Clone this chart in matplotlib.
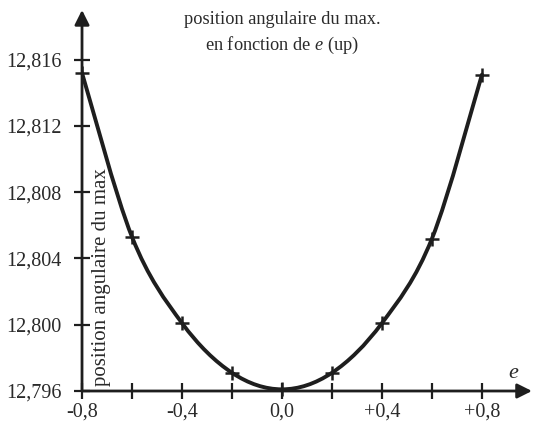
import numpy as np
import matplotlib

matplotlib.use("Agg")
import matplotlib.pyplot as plt
from matplotlib.path import Path
from matplotlib.patches import PathPatch

plt.rcParams["font.family"] = "Liberation Serif"
plt.rcParams["mathtext.fontset"] = "custom"
plt.rcParams["mathtext.rm"] = "Liberation Serif"
plt.rcParams["mathtext.it"] = "Liberation Serif:italic"

INK = "#1e1e1e"
TEXT = "#2a2a2a"

# measured points: asymmetry parameter e vs angular position of the max
e_vals = [-0.8, -0.6, -0.4, -0.2, 0.0, 0.2, 0.4, 0.6, 0.8]
pos_max = [12.8152, 12.8053, 12.8001, 12.7971, 12.7961, 12.7971, 12.8001, 12.8052, 12.8151]

x_ticks = [-0.8, -0.6, -0.4, -0.2, 0.0, 0.2, 0.4, 0.6, 0.8]
x_labels = ["-0,8", "", "-0,4", "", "0,0", "", "+0,4", "", "+0,8"]
y_ticks = [12.796, 12.800, 12.804, 12.808, 12.812, 12.816]
y_labels = ["12,796", "12,800", "12,804", "12,808", "12,812", "12,816"]


def smooth_path(xs, ys):
    """Catmull-Rom curve through the points, as cubic Bezier segments."""
    pts = np.column_stack([xs, ys])
    n = len(pts)
    verts, codes = [pts[0]], [Path.MOVETO]
    for i in range(n - 1):
        p0 = pts[i - 1] if i > 0 else pts[i]
        p1, p2 = pts[i], pts[i + 1]
        p3 = pts[i + 2] if i + 2 < n else pts[i + 1]
        verts += [p1 + (p2 - p0) / 6, p2 - (p3 - p1) / 6, p2]
        codes += [Path.CURVE4] * 3
    return Path(verts, codes)


fig = plt.figure(figsize=(5.35, 4.25), dpi=100)
ax = fig.add_axes([0.1533, 0.08, 0.841, 0.8965])
ax.set_xlim(-0.8, 1.0)
ax.set_ylim(12.796, 12.819)

ax.add_patch(PathPatch(smooth_path(e_vals, pos_max), fill=False,
                       edgecolor=INK, lw=2.8, capstyle="round", zorder=3))
ax.plot(e_vals, pos_max, ls="none", marker="+", ms=10, mew=1.8,
        color=INK, zorder=4, clip_on=False)

# axes as arrows
for sp in ax.spines.values():
    sp.set_visible(False)
arrow = dict(arrowstyle="-|>", lw=2.0, color=INK, mutation_scale=22,
             shrinkA=0, shrinkB=0)
ax.annotate("", xy=(1.0, 0), xytext=(0, 0), xycoords="axes fraction",
            arrowprops=arrow)
ax.annotate("", xy=(0, 1.0), xytext=(0, 0), xycoords="axes fraction",
            arrowprops=arrow)

ax.set_xticks(x_ticks, x_labels)
ax.set_yticks(y_ticks, y_labels)
ax.tick_params(direction="inout", length=11, width=1.6, color=INK,
               labelsize=14.5, labelcolor=TEXT)
ax.tick_params(axis="x", pad=2.5)
ax.tick_params(axis="y", pad=9)

ax.text(0.0, 12.8176, "position angulaire du max.\nen fonction de $e$ (up)",
        ha="center", va="center", fontsize=13.2, color=TEXT, linespacing=1.45)
ax.text(0.044, 0.014, "position angulaire du max", transform=ax.transAxes,
        rotation=90, ha="center", va="bottom", fontsize=15, color=TEXT)
ax.text(0.96, 0.045, "$e$", transform=ax.transAxes, ha="center",
        va="center", fontsize=16, color=TEXT)

fig.savefig("out.png")
